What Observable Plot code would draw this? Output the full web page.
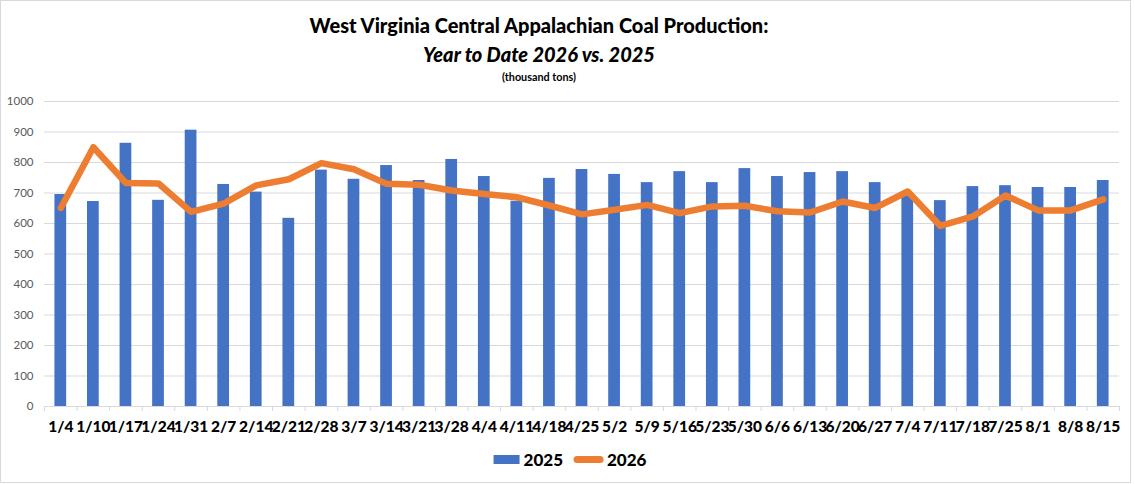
<!DOCTYPE html>
<html>
<head>
<meta charset="utf-8">
<script src="https://cdn.jsdelivr.net/npm/d3@7"></script>
<script src="https://cdn.jsdelivr.net/npm/@observablehq/plot@0.6"></script>
<style>
  html, body { margin: 0; padding: 0; background: #fff; overflow: hidden; }
  #wrap { position: relative; width: 1135px; height: 484px; font-family: Lato, "Open Sans", sans-serif; }
  #border { position: absolute; left: 0; top: 0; width: 1129px; height: 481px; border: 1px solid #d9d9d9; }
  .t { position: absolute; left: 539px; transform: translateX(-50%); white-space: nowrap; color: #000; font-weight: bold; line-height: 1; }
  #t1 { top: 15px; font-size: 20px; font-weight: 900; }
  #t2 { top: 44px; font-size: 20px; font-style: italic; font-weight: 900; }
  #t3 { top: 72px; font-size: 10.8px; }
  #chart { position: absolute; left: 0; top: 90px; width: 1135px; height: 350px; }
  #chart svg { max-width: none; }
  #legend { position: absolute; top: 449px; left: 570px; transform: translateX(-50%); display: flex; align-items: center; font-weight: 900; font-size: 17px; white-space: nowrap; }
  .sw-bar { width: 26px; height: 9px; background: #4472C4; margin-right: 4px; }
  .sw-line { width: 30px; height: 7px; border-radius: 3.5px; background: #ED7D31; margin-left: 11px; margin-right: 3px; }
</style>
</head>
<body>
<div id="wrap">
  <div id="border"></div>
  <div class="t" id="t1">West Virginia Central Appalachian Coal Production:</div>
  <div class="t" id="t2">Year to Date 2026 vs. 2025</div>
  <div class="t" id="t3">(thousand tons)</div>
  <div id="chart"></div>
  <div id="legend"><div class="sw-bar"></div><span>2025</span><div class="sw-line"></div><span>2026</span></div>
</div>
<script>
const dates = ["1/4","1/10","1/17","1/24","1/31","2/7","2/14","2/21","2/28","3/7","3/14","3/21","3/28","4/4","4/11","4/18","4/25","5/2","5/9","5/16","5/23","5/30","6/6","6/13","6/20","6/27","7/4","7/11","7/18","7/25","8/1","8/8","8/15"];
const v2025 = [695,672,863,676,906,728,703,617,775,745,790,741,810,754,673,748,777,761,734,770,734,780,754,767,770,734,698,675,721,724,718,718,741];
const v2026 = [651,850,733,731,638,665,725,745,798,778,730,727,708,697,686,659,630,645,661,634,656,658,640,636,672,651,705,592,623,692,643,643,679];
const yTicks = [0,100,200,300,400,500,600,700,800,900,1000];

const rows = dates.map((d, i) => ({date: d, y2025: v2025[i], y2026: v2026[i]}));
const W = 1135, H = 350, ML = 44, MR = 16;
const step = (W - ML - MR) / dates.length;

const chart = Plot.plot({
  width: W, height: H,
  marginTop: 11, marginBottom: 34, marginLeft: ML, marginRight: MR,
  style: {fontFamily: "Lato, 'Open Sans', sans-serif", background: "transparent", overflow: "visible"},
  x: {type: "band", domain: dates, paddingInner: 0.64, paddingOuter: 0.32, round: false, label: null},
  y: {domain: [0, 1000], label: null},
  marks: [
    Plot.gridY(yTicks, {stroke: "#d9d9d9", strokeOpacity: 1}),
    Plot.axisY(yTicks, {tickSize: 0, tickPadding: 11, fontSize: 11.5, fill: "#595959", tickFormat: d3.format("d"), label: null}),
    Plot.barY(rows, {x: "date", y: "y2025", fill: "#4472C4"}),
    Plot.ruleY([0], {stroke: "#d9d9d9"}),
    Plot.axisX({tickSize: 5, tickFormat: () => "", dx: -step / 2, stroke: "#d9d9d9", label: null}),
    Plot.axisX([dates[dates.length - 1]], {tickSize: 5, tickFormat: () => "", dx: step / 2, stroke: "#d9d9d9", label: null}),
    Plot.axisX({tickSize: 0, tickPadding: 14, fontSize: 15.5, fontWeight: 900, fill: "#000", label: null}),
    Plot.line(rows, {x: "date", y: "y2026", stroke: "#ED7D31", strokeWidth: 6.5, strokeLinejoin: "round", strokeLinecap: "round"})
  ]
});
document.getElementById("chart").appendChild(chart);
</script>
</body>
</html>
